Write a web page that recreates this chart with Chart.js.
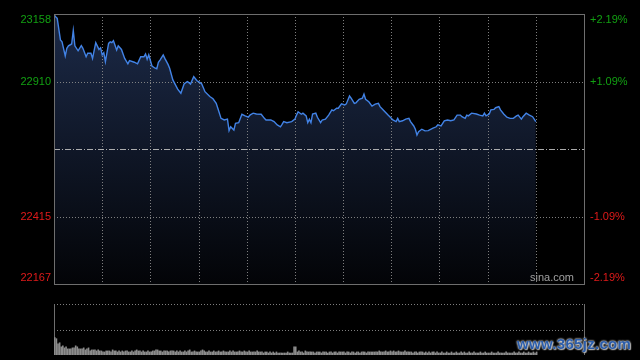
<!DOCTYPE html>
<html><head><meta charset="utf-8">
<script src="https://cdn.jsdelivr.net/npm/chart.js@4/dist/chart.umd.min.js"></script>
<style>
html,body{margin:0;padding:0;background:#000;width:640px;height:360px;overflow:hidden}
canvas{position:absolute;left:0}
#main{top:0}
#vol{top:290px}
#wm{position:absolute;left:517px;top:335px;font:bold 15px "Liberation Sans",Arial,sans-serif;color:#2a5caa;
 text-shadow:0 0 2px #ddd,0 0 2px #ddd,1px 1px 1px #999;letter-spacing:0.3px;white-space:nowrap}
</style></head><body>
<canvas id="main" width="640" height="290"></canvas>
<canvas id="vol" width="640" height="70"></canvas>
<div id="wm">www.365jz.com</div>
<script>
// ---- data ----
const sessionMinutes = 330;            // 9:30-12:00, 13:00-16:00
const timeGridStep = 30;
const priceMin = 22167;
const priceMax = 23158;
const minutes = [
 0,1,2,4,5,7,8,9,11,12,
 13,15,17,18,20,21,23,24,26,28,
 29,30,31,32,34,35,36,37,39,40,
 42,44,46,47,50,52,54,56,57,58,
 59,61,63,64,65,66,68,69,71,72,
 74,77,79,81,83,84,85,87,89,91,
 92,94,97,99,101,102,104,106,108,109,
 110,112,113,115,117,119,121,122,124,126,
 129,131,132,135,137,139,141,142,143,145,
 148,150,151,152,154,155,157,158,159,160,
 161,163,164,166,167,169,171,173,174,176,
 177,179,181,182,184,185,187,188,190,192,
 193,194,196,198,200,202,203,205,208,210,
 211,213,214,215,217,219,221,222,224,225,
 226,227,229,231,233,236,238,239,241,243,
 245,247,249,251,253,254,256,257,258,260,
 263,265,267,268,269,271,272,274,275,277,
 278,280,282,284,286,288,289,291,292,294,
 296,298,300];
const prices = [
 23155,23148,23142,23063,23056,23004,23032,23041,23048,23097,
 23041,23023,23042,23032,23001,23014,23014,22995,23053,23028,
 23034,23008,23016,22983,23050,23056,23053,23060,23026,23041,
 23028,22995,22975,22987,22981,22975,23001,23001,23011,22992,
 23008,22967,22959,22957,22981,22989,23008,22995,22973,22959,
 22916,22882,22867,22901,22910,22906,22901,22928,22913,22906,
 22901,22873,22855,22847,22830,22812,22775,22769,22772,22730,
 22744,22732,22757,22759,22790,22784,22779,22787,22794,22791,
 22790,22775,22769,22769,22763,22751,22744,22753,22763,22759,
 22763,22772,22787,22799,22790,22794,22784,22759,22772,22759,
 22791,22794,22779,22759,22769,22772,22787,22806,22803,22812,
 22812,22828,22824,22828,22857,22849,22830,22832,22845,22849,
 22864,22845,22836,22820,22827,22830,22818,22806,22787,22775,
 22769,22763,22775,22763,22766,22772,22775,22763,22747,22735,
 22714,22726,22735,22729,22730,22739,22744,22751,22747,22766,
 22769,22766,22769,22787,22787,22781,22775,22787,22784,22794,
 22791,22787,22784,22794,22784,22791,22806,22808,22814,22818,
 22806,22791,22779,22775,22775,22784,22787,22772,22781,22794,
 22787,22781,22763];
// volume per minute (index = minute), relative units
const volumes = [
 17,16,11,12,8,9,7,8,6,6,
 6,7,7,9,8,6,6,6,7,5,
 6,7,4,5,5,5,4,5,4,4,
 3,3,4,4,4,3,5,4,4,3,
 4,3,4,3,4,4,3,3,4,3,
 4,5,4,4,3,4,3,3,4,3,
 3,4,4,5,5,4,4,3,4,4,
 4,3,4,4,4,3,4,3,4,3,
 3,4,3,4,5,3,3,4,3,3,
 3,4,5,4,3,3,4,3,3,4,
 3,3,4,3,3,4,3,3,3,4,
 3,4,3,3,3,4,3,3,4,3,
 3,4,3,3,3,3,4,3,3,3,
 2,3,3,2,3,2,3,2,3,2,
 2,2,2,2,2,3,2,2,2,8,
 8,3,4,3,3,2,4,3,3,3,
 3,3,2,3,3,3,2,3,3,3,
 2,3,3,2,3,3,2,3,3,3,
 3,2,3,3,2,3,3,2,3,3,
 2,3,3,3,2,3,3,3,3,3,
 3,3,4,3,3,3,4,3,3,4,
 3,4,3,3,4,3,3,3,4,3,
 3,3,3,2,3,3,2,3,3,3,
 2,3,2,3,2,3,3,2,3,2,
 2,3,2,2,3,2,2,3,2,2,
 3,2,2,3,2,3,2,2,3,2,
 2,3,2,2,2,3,2,2,3,2,
 2,2,3,2,2,2,3,2,2,2,
 2,3,2,2,2,2,3,2,2,3,
 2,2,3,2,2,3,2,2,3,2,
 3];
const volumeMax = 50;
const sourceLabel = 'sina.com';

// ---- derived ----
const prevClose = (priceMin + priceMax) / 2;
const priceTicks = [0,1,2,3,4].map(i => priceMin + (priceMax - priceMin) * i / 4);
const n = Math.min(minutes.length, prices.length);
const linePts = [];
for (let i = 0; i < n; i++) linePts.push({x: minutes[i], y: prices[i]});
const volPts = volumes.map((v, i) => ({x: i + 0.5, y: v}));

const GRID = 'rgba(140,140,140,0.9)';
const BORDER = '#6e6e6e';
const GREEN = '#12a012';
const RED = '#e01a1a';
const FONT = '11px "Liberation Sans", Arial, sans-serif';

function hline(ctx, x1, x2, y, dash, color) {
  ctx.save(); ctx.strokeStyle = color; ctx.lineWidth = 1; ctx.setLineDash(dash);
  ctx.beginPath(); ctx.moveTo(x1, Math.round(y) + 0.5); ctx.lineTo(x2, Math.round(y) + 0.5); ctx.stroke(); ctx.restore();
}
function vline(ctx, x, y1, y2, dash, color) {
  ctx.save(); ctx.strokeStyle = color; ctx.lineWidth = 1; ctx.setLineDash(dash);
  ctx.beginPath(); ctx.moveTo(Math.round(x) + 0.5, y1); ctx.lineTo(Math.round(x) + 0.5, y2); ctx.stroke(); ctx.restore();
}

const mainGrid = {
  id: 'mainGrid',
  beforeDatasetsDraw(chart) {
    const {ctx, chartArea: a, scales: {x, y}} = chart;
    for (let t = timeGridStep; t < sessionMinutes; t += timeGridStep) {
      vline(ctx, x.getPixelForValue(t), a.top, a.bottom, [1, 2], GRID);
    }
    hline(ctx, a.left, a.right, y.getPixelForValue(priceTicks[1]), [1, 2], GRID);
    hline(ctx, a.left, a.right, y.getPixelForValue(priceTicks[3]), [1, 2], GRID);
    hline(ctx, a.left, a.right, y.getPixelForValue(prevClose), [6, 2, 1, 2], 'rgba(190,190,190,0.9)');
  },
  afterDatasetsDraw(chart) {
    const {ctx, chartArea: a, scales: {y}} = chart;
    ctx.save();
    ctx.strokeStyle = BORDER; ctx.lineWidth = 1; ctx.setLineDash([]);
    ctx.strokeRect(Math.round(a.left) + 0.5, Math.round(a.top) + 0.5, Math.round(a.right - a.left), Math.round(a.bottom - a.top));
    ctx.font = FONT; ctx.textBaseline = 'middle';
    priceTicks.forEach((v, i) => {
      if (i === 2) return;
      let py = y.getPixelForValue(v);
      py = Math.max(a.top + 6, Math.min(a.bottom - 6, py));
      ctx.fillStyle = v > prevClose ? GREEN : RED;
      ctx.textAlign = 'right';
      ctx.fillText(String(Math.round(v)), a.left - 3, py);
      const pct = (v - prevClose) / prevClose * 100;
      ctx.textAlign = 'left';
      ctx.fillText((pct > 0 ? '+' : '') + pct.toFixed(2) + '%', a.right + 6, py);
    });
    ctx.fillStyle = '#a0a0a0'; ctx.textAlign = 'right';
    ctx.fillText(sourceLabel, a.right - 10, a.bottom - 6);
    ctx.restore();
  }
};

new Chart(document.getElementById('main'), {
  type: 'line',
  data: { datasets: [{
    data: linePts,
    borderColor: '#4283e6',
    borderWidth: 1.4,
    pointRadius: 0,
    tension: 0,
    fill: 'start',
    backgroundColor: (c) => {
      const a = c.chart.chartArea; if (!a) return 'rgba(20,30,50,1)';
      const g = c.chart.ctx.createLinearGradient(0, a.top, 0, a.bottom);
      g.addColorStop(0, 'rgb(28,42,72)');
      g.addColorStop(1, 'rgb(3,4,7)');
      return g;
    }
  }]},
  options: {
    responsive: false, animation: false, devicePixelRatio: 1,
    layout: { padding: { left: 54, right: 56, top: 14, bottom: 6 } },
    scales: {
      x: { type: 'linear', display: false, min: 0, max: sessionMinutes },
      y: { type: 'linear', display: false, min: priceMin, max: priceMax }
    },
    plugins: { legend: { display: false }, tooltip: { enabled: false }, filler: { drawTime: 'beforeDatasetsDraw' } }
  },
  plugins: [mainGrid]
});

const volGrid = {
  id: 'volGrid',
  beforeDatasetsDraw(chart) {
    const {ctx, chartArea: a, scales: {y}} = chart;
    hline(ctx, a.left, a.right, y.getPixelForValue(volumeMax), [1, 2], GRID);
    hline(ctx, a.left, a.right, y.getPixelForValue(volumeMax / 2), [1, 2], GRID);
    vline(ctx, a.left, a.top, a.bottom, [], BORDER);
    vline(ctx, a.right, a.top, a.bottom, [], BORDER);
  }
};

new Chart(document.getElementById('vol'), {
  type: 'bar',
  data: { datasets: [{
    data: volPts,
    backgroundColor: '#8c8c8c',
    barThickness: 1,
    borderWidth: 0
  }]},
  options: {
    responsive: false, animation: false, devicePixelRatio: 1,
    layout: { padding: { left: 54, right: 56, top: 14, bottom: 5 } },
    scales: {
      x: { type: 'linear', display: false, min: 0, max: sessionMinutes, offset: false },
      y: { type: 'linear', display: false, min: 0, max: volumeMax }
    },
    plugins: { legend: { display: false }, tooltip: { enabled: false } }
  },
  plugins: [volGrid]
});
</script>
</body></html>
